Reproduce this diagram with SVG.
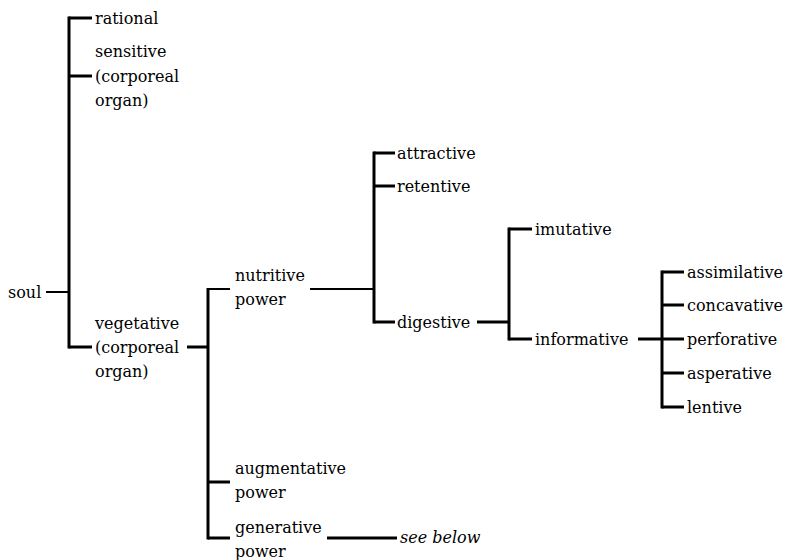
<svg xmlns="http://www.w3.org/2000/svg" width="787" height="560" viewBox="0 0 787 560">
<style>
.lbl text{font-family:"DejaVu Serif",serif;font-size:16px;fill:#000}
.lbl text.it{font-style:italic}
#connectors line{stroke:#000;stroke-width:3;stroke-linecap:butt}
#connectors line.thin{stroke-width:2}
</style>
<rect width="787" height="560" fill="#fff"/>
<g id="connectors">
<line x1="69" y1="16.5" x2="69" y2="348.5"/>
<line x1="69" y1="18" x2="92" y2="18"/>
<line x1="69" y1="76" x2="92" y2="76"/>
<line class="thin" x1="46" y1="292" x2="69" y2="292"/>
<line x1="69" y1="347" x2="92" y2="347"/>
<line x1="187" y1="347" x2="208" y2="347"/>
<line x1="208" y1="288" x2="208" y2="539.5"/>
<line class="thin" x1="208" y1="289" x2="230" y2="289"/>
<line class="thin" x1="310" y1="289" x2="374" y2="289"/>
<line x1="208" y1="482" x2="230" y2="482"/>
<line x1="208" y1="538" x2="230" y2="538"/>
<line x1="327" y1="538" x2="397" y2="538"/>
<line x1="374" y1="151.5" x2="374" y2="323.5"/>
<line x1="374" y1="153" x2="395" y2="153"/>
<line x1="374" y1="186" x2="395" y2="186"/>
<line x1="374" y1="322" x2="395" y2="322"/>
<line x1="477" y1="322" x2="509" y2="322"/>
<line x1="509" y1="227.5" x2="509" y2="340.5"/>
<line x1="509" y1="229" x2="532" y2="229"/>
<line x1="509" y1="339" x2="532" y2="339"/>
<line x1="638" y1="339" x2="662" y2="339"/>
<line x1="662" y1="270.5" x2="662" y2="408.5"/>
<line x1="662" y1="272" x2="684" y2="272"/>
<line x1="662" y1="305" x2="684" y2="305"/>
<line x1="662" y1="339" x2="684" y2="339"/>
<line x1="662" y1="373" x2="684" y2="373"/>
<line x1="662" y1="407" x2="684" y2="407"/>
</g>
<g class="lbl">
<g id="soul"><text x="8" y="298">soul</text></g>
<g id="rational"><text x="95" y="24">rational</text></g>
<g id="sensitive"><text x="95" y="57">sensitive</text><text x="95" y="82">(corporeal</text><text x="95" y="106">organ)</text></g>
<g id="vegetative"><text x="95" y="329">vegetative</text><text x="95" y="353">(corporeal</text><text x="95" y="377">organ)</text></g>
<g id="nutritive"><text x="235" y="281">nutritive</text><text x="235" y="305">power</text></g>
<g id="augmentative"><text x="235" y="474">augmentative</text><text x="235" y="498">power</text></g>
<g id="generative"><text x="235" y="533">generative</text><text x="235" y="557">power</text></g>
<g id="see-below"><text class="it" x="400" y="543">see below</text></g>
<g id="attractive"><text x="397" y="159">attractive</text></g>
<g id="retentive"><text x="397" y="192">retentive</text></g>
<g id="digestive"><text x="397" y="328">digestive</text></g>
<g id="imutative"><text x="535" y="235">imutative</text></g>
<g id="informative"><text x="535" y="345">informative</text></g>
<g id="assimilative"><text x="687" y="278">assimilative</text></g>
<g id="concavative"><text x="687" y="311">concavative</text></g>
<g id="perforative"><text x="687" y="345">perforative</text></g>
<g id="asperative"><text x="687" y="379">asperative</text></g>
<g id="lentive"><text x="687" y="413">lentive</text></g>
</g>
</svg>
